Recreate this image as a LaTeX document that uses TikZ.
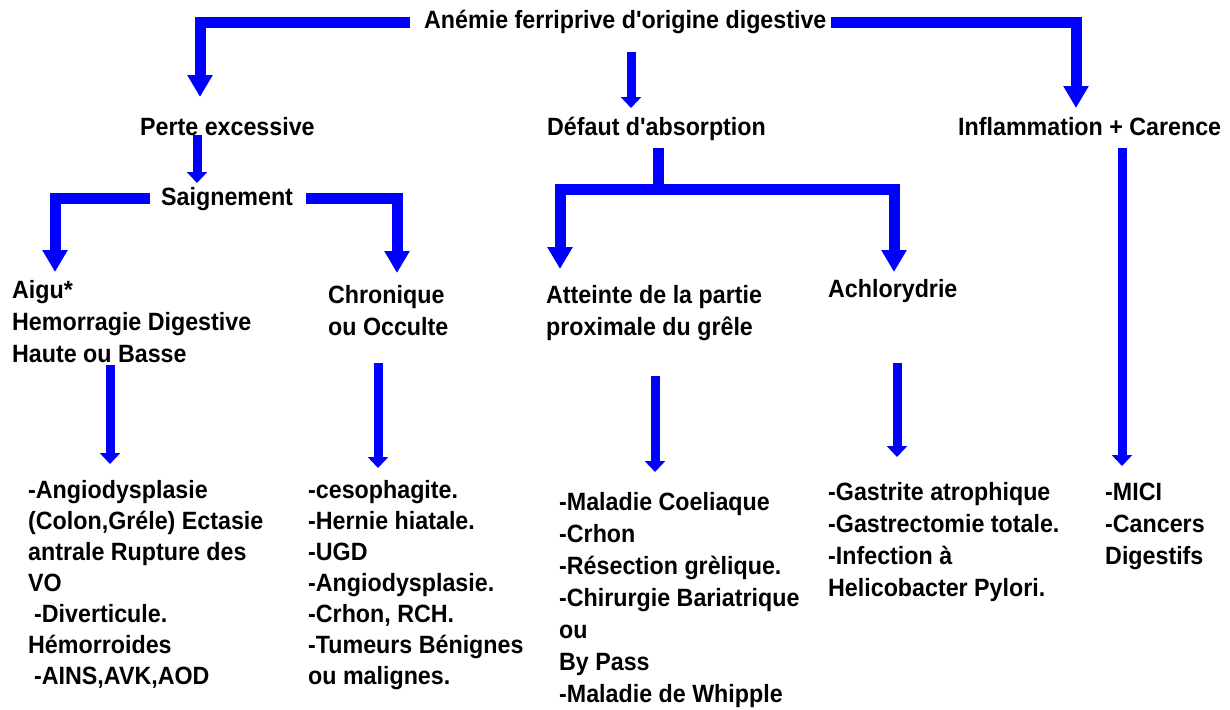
\documentclass[tikz,border=0pt]{standalone}
\usepackage{fontspec}
\setmainfont{Liberation Sans}[FakeStretch=0.93,Ligatures=TeXOff]
\usetikzlibrary{arrows.meta}

\begin{document}
\begin{tikzpicture}[x=1pt,y=-1pt,
  txt/.style={inner sep=0pt,anchor=base west,align=left,
    font=\fontsize{25}{32}\selectfont\bfseries},
  tight/.style={font=\fontsize{25}{31}\selectfont\bfseries},
  bigarr/.style={draw=blue,line width=11pt,-{Triangle[width=24pt,length=22pt]}},
  thinarr/.style={draw=blue,line width=9pt,-{Triangle[width=20pt,length=11pt]}}]
  \useasboundingbox (0,0) rectangle (1230,709);
  % titles (multi-line nodes sit on their last line)
  \node[txt] (title) at (424,29) {Anémie ferriprive d'origine digestive};
  \node[txt] (perte) at (140,135) {Perte excessive};
  \node[txt] (defaut) at (547,135) {Défaut d'absorption};
  \node[txt] (inflam) at (958,135) {Inflammation + Carence};
  \node[txt] (saign) at (161,205) {Saignement};
  \node[txt] (aigu) at (12,362) {Aigu*\\Hemorragie Digestive\\Haute ou Basse};
  \node[txt] (chron) at (328,335) {Chronique\\ou Occulte};
  \node[txt] (atteinte) at (546,335) {Atteinte de la partie\\proximale du grêle};
  \node[txt] (achlor) at (828,297) {Achlorydrie};
  % lists
  \node[txt,tight] (aiguL) at (28,684) {-Angiodysplasie\\(Colon,Gréle) Ectasie\\antrale Rupture des\\VO\\
    \hspace*{6pt}-Diverticule.\\Hémorroides\\\hspace*{6pt}-AINS,AVK,AOD};
  \node[txt,tight] (chronL) at (308,684) {-cesophagite.\\-Hernie hiatale.\\-UGD\\-Angiodysplasie.\\
    -Crhon, RCH.\\-Tumeurs Bénignes\\ou malignes.};
  \node[txt] (atteinteL) at (559,702) {-Maladie Coeliaque\\-Crhon\\-Résection grèlique.\\
    -Chirurgie Bariatrique\\ou\\By Pass\\-Maladie de Whipple};
  \node[txt] (achlorL) at (828,596) {-Gastrite atrophique\\-Gastrectomie totale.\\
    -Infection à\\Helicobacter Pylori.};
  \node[txt] (inflamL) at (1105,564) {-MICI\\-Cancers\\Digestifs};
  % tips
  \coordinate (pe-tip) at (200,97);
  \coordinate (da-tip) at (631,108);
  \coordinate (ic-tip) at (1076,108);
  \coordinate (sg-tip) at (197,183);
  \coordinate (ai-tip) at (55,272);
  \coordinate (ch-tip) at (397,273);
  \coordinate (ab-split) at (658,189);
  \coordinate (at-tip) at (560,269);
  \coordinate (ac-tip) at (894,272);
  \coordinate (aiL-tip) at (110,464);
  \coordinate (chL-tip) at (378,468);
  \coordinate (atL-tip) at (655,472);
  \coordinate (acL-tip) at (897,457);
  \coordinate (icL-tip) at (1122,466);
  % arrows
  \draw[bigarr] ([xshift=-14pt]title.west) -| (pe-tip);
  \draw[thinarr,shorten <=18pt] (title.south -| da-tip) -- (da-tip);
  \draw[bigarr] ([xshift=4pt]title.east) -| (ic-tip);
  \draw[thinarr] (perte.south -| sg-tip) -- (sg-tip);
  \draw[bigarr] ([xshift=-11pt]saign.west) -| (ai-tip);
  \draw[bigarr] ([xshift=13pt]saign.east) -| (ch-tip);
  \draw[bigarr,shorten <=8pt] (defaut.south -| ab-split) -- (ab-split) -| (at-tip);
  \draw[bigarr] (ab-split) -| (ac-tip);
  \draw[thinarr,shorten <=13pt] (inflam.south -| icL-tip) -- (icL-tip);
  \draw[thinarr,shorten <=3pt] (aigu.south -| aiL-tip) -- (aiL-tip);
  \draw[thinarr,shorten <=28pt] (chron.south -| chL-tip) -- (chL-tip);
  \draw[thinarr,shorten <=35pt] (atteinte.south -| atL-tip) -- (atL-tip);
  \draw[thinarr,shorten <=61pt] (achlor.south -| acL-tip) -- (acL-tip);
\end{tikzpicture}
\end{document}
